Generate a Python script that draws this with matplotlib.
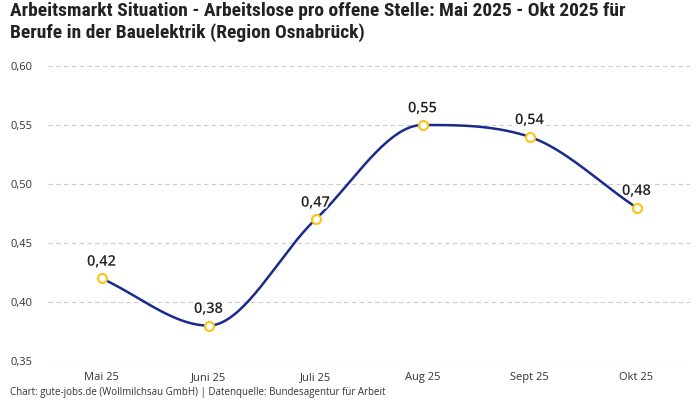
import numpy as np
import matplotlib
matplotlib.use("Agg")
from matplotlib import pyplot as plt
import matplotlib.patheffects as pe

months = ["Mai 25", "Juni 25", "Juli 25", "Aug 25", "Sept 25", "Okt 25"]
values = [0.42, 0.38, 0.47, 0.55, 0.54, 0.48]
y_ticks = [0.35, 0.40, 0.45, 0.50, 0.55, 0.60]

title = ("Arbeitsmarkt Situation - Arbeitslose pro offene Stelle: Mai 2025 - Okt 2025 für\n"
         "Berufe in der Bauelektrik (Region Osnabrück)")
footer = "Chart: gute-jobs.de (Wollmilchsau GmbH) | Datenquelle: Bundesagentur für Arbeit"

line_color = "#1a2a8c"
marker_color = "#f8c623"
text_color = "#222222"


def monotone_curve(x, y, n=40):
    # monotone cubic (Fritsch-Carlson) like d3 curveMonotoneX
    x = np.asarray(x, float)
    y = np.asarray(y, float)
    h = np.diff(x)
    d = np.diff(y) / h
    m = np.zeros_like(y)
    m[0], m[-1] = d[0], d[-1]
    for i in range(1, len(y) - 1):
        if d[i - 1] * d[i] <= 0:
            m[i] = 0
        else:
            m[i] = (d[i - 1] * h[i] + d[i] * h[i - 1]) / (h[i - 1] + h[i])
            s = 3 * min(abs(d[i - 1]), abs(d[i]))
            if abs(m[i]) > s:
                m[i] = np.sign(m[i]) * s
    xs, ys = [], []
    for i in range(len(h)):
        t = np.linspace(0, 1, n)
        h00 = 2 * t**3 - 3 * t**2 + 1
        h10 = t**3 - 2 * t**2 + t
        h01 = -2 * t**3 + 3 * t**2
        h11 = t**3 - t**2
        xs.append(x[i] + t * h[i])
        ys.append(h00 * y[i] + h10 * h[i] * m[i] + h01 * y[i + 1] + h11 * h[i] * m[i + 1])
    return np.concatenate(xs), np.concatenate(ys)


plt.rcParams["font.family"] = ["Open Sans", "DejaVu Sans"]

fig = plt.figure(figsize=(7, 4), dpi=100)
ax = fig.add_axes([48 / 700, 1 - 361 / 400, 642 / 700, 295 / 400])

xpos = np.arange(len(months))
cx, cy = monotone_curve(xpos, values)
ax.plot(cx, cy, color=line_color, linewidth=1.8, zorder=3)
ax.scatter(xpos, values, s=42, facecolors="white", edgecolors=marker_color,
           linewidths=1.6, zorder=4)

for x, v in zip(xpos, values):
    ax.annotate(f"{v:.2f}".replace(".", ","), (x, v), xytext=(0, 7),
                textcoords="offset points", ha="center", va="bottom",
                fontsize=10.5, fontweight="semibold", color=text_color, zorder=5,
                path_effects=[pe.withStroke(linewidth=3, foreground="white")])

ax.set_xlim(-0.5, len(months) - 0.5)
ax.set_ylim(0.35, 0.60)
ax.set_yticks(y_ticks)
ax.set_yticklabels([f"{t:.2f}".replace(".", ",") for t in y_ticks])
ax.set_xticks(xpos)
ax.set_xticklabels(months)
ax.tick_params(axis="both", length=0, labelsize=8, labelcolor="#333333")
ax.tick_params(axis="x", pad=8)
ax.tick_params(axis="y", pad=27)
for lbl in ax.get_yticklabels():
    lbl.set_horizontalalignment("left")

ax.grid(axis="y", color="#cccccc", linestyle=(0, (4, 3)), linewidth=0.8)
ax.set_axisbelow(True)
for s in ax.spines.values():
    s.set_visible(False)

fig.text(10 / 700, 1 - 2 / 400, title, ha="left", va="top", fontsize=14,
         fontweight="bold", color=text_color,
         family=["Roboto Condensed", "Liberation Sans Narrow", "Roboto", "DejaVu Sans"],
         linespacing=1.2)
fig.text(10 / 700, 1 - 393 / 400, footer, ha="left", va="center", fontsize=7,
         color="#333333")

fig.savefig("out.png", dpi=100)
